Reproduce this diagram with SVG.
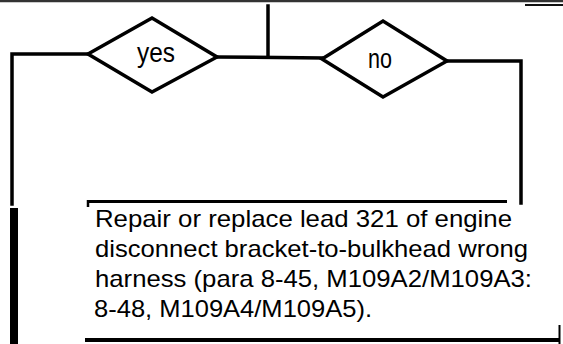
<svg xmlns="http://www.w3.org/2000/svg" width="563" height="344" viewBox="0 0 563 344">
<style>
.ln{fill:none;stroke:#000;stroke-width:3.5;stroke-linecap:square;stroke-linejoin:miter}
.dia{fill:#fff;stroke:#000;stroke-width:3.5;stroke-linejoin:miter}
.lbl{font-family:"Liberation Sans",Arial,sans-serif;font-size:28px;fill:#000}
.body{font-family:"Liberation Sans",Arial,sans-serif;font-size:24px;fill:#000}
</style>
<rect width="563" height="344" fill="#fff"/>
<line x1="0" y1="1" x2="563" y2="1" stroke="#333" stroke-width="2.5"/>
<line x1="525" y1="5" x2="563" y2="5" stroke="#111" stroke-width="2"/>
<g id="connectors">
  <polyline class="ln" points="268,6 268,57"/>
  <polyline class="ln" points="217,57 322,58"/>
  <polyline class="ln" points="88,54 12,54 12,204"/>
  <polyline class="ln" points="447,61 521,61 521,203"/>
  <rect x="10" y="208" width="8" height="136" fill="#000"/>
</g>
<g id="yes">
  <polygon class="dia" points="88,54 152,18 217,57 152,92"/>
  <text class="lbl" x="137" y="62" textLength="38" lengthAdjust="spacingAndGlyphs">yes</text>
</g>
<g id="no">
  <polygon class="dia" points="322,59 383,21 447,61 383,97"/>
  <text class="lbl" x="368" y="68" textLength="24" lengthAdjust="spacingAndGlyphs">no</text>
</g>
<g id="repair">
  <line x1="87" y1="201.5" x2="507" y2="201.5" stroke="#000" stroke-width="3"/>
  <line x1="88" y1="200" x2="88" y2="207" stroke="#000" stroke-width="2.5"/>
  <line x1="85" y1="340" x2="559" y2="340" stroke="#000" stroke-width="4"/>
  <line x1="559.5" y1="325" x2="559.5" y2="344" stroke="#000" stroke-width="2"/>
  <text class="body" x="95" y="227" textLength="417" lengthAdjust="spacingAndGlyphs">Repair or replace lead 321 of engine</text>
  <text class="body" x="95" y="257" textLength="433" lengthAdjust="spacingAndGlyphs">disconnect bracket-to-bulkhead wrong</text>
  <text class="body" x="95" y="287" textLength="437" lengthAdjust="spacingAndGlyphs">harness (para 8-45, M109A2/M109A3:</text>
  <text class="body" x="94" y="317" textLength="278" lengthAdjust="spacingAndGlyphs">8-48, M109A4/M109A5).</text>
</g>
</svg>
